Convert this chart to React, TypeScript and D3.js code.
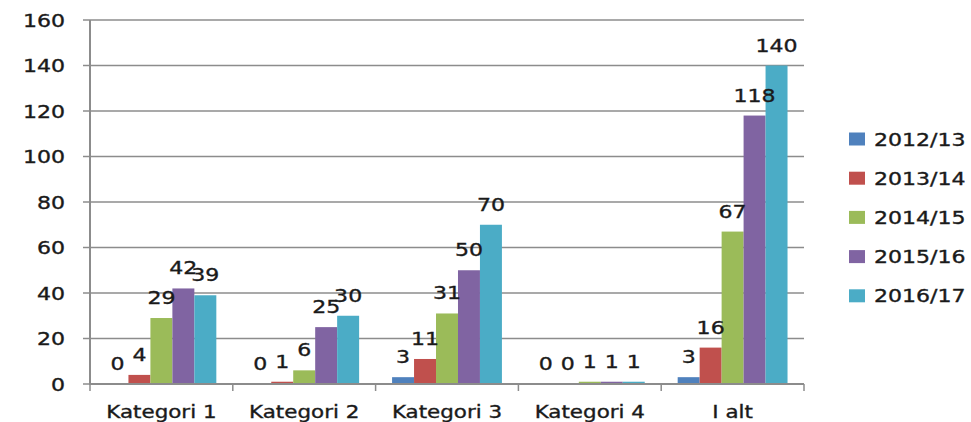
import React from 'react';
import { scaleBand, scaleLinear } from 'd3';

const categories = ['Kategori 1', 'Kategori 2', 'Kategori 3', 'Kategori 4', 'I alt'];
const seriesNames = ['2012/13', '2013/14', '2014/15', '2015/16', '2016/17'];
const colors = ['#4F81BD', '#C0504D', '#9BBB59', '#8064A2', '#4BACC6'];

// one array per season, values per category
const s2012 = [0, 0, 3, 0, 3];
const s2013 = [4, 1, 11, 0, 16];
const s2014 = [29, 6, 31, 1, 67];
const s2015 = [42, 25, 50, 1, 118];
const s2016 = [39, 30, 70, 1, 140];
const seriesValues = [s2012, s2013, s2014, s2015, s2016];

const yTicks = [0, 20, 40, 60, 80, 100, 120, 140, 160];

const width = 971;
const height = 422;
const left = 90;
const right = 804;
const top = 20;
const bottom = 384;

const font = '"DejaVu Sans", Verdana, sans-serif';
const stretch = 1.26;

// the picture is a bit wide, so text gets stretched horizontally
const Txt = ({ x, y, anchor = 'start', size = 17.5, children }: any) => (
  <text
    transform={`translate(${x},${y}) scale(${stretch},1)`}
    textAnchor={anchor}
    fontFamily={font}
    fontSize={size}
    fill="#1a1a1a"
    stroke="#1a1a1a"
    strokeWidth={0.35}
  >
    {children}
  </text>
);

export default function App() {
  const x = scaleBand<string>().domain(categories).range([left, right]);
  const inner = scaleBand<string>()
    .domain(seriesNames)
    .range([0, x.bandwidth()])
    .paddingOuter(0.75);
  const y = scaleLinear().domain([0, 160]).range([bottom, top]);

  const bars = categories.flatMap((c, ci) =>
    seriesValues.map((vals, si) => ({
      key: c + si,
      v: vals[ci],
      si,
      bx: (x(c) as number) + (inner(seriesNames[si]) as number),
    }))
  );

  return (
    <svg width={width} height={height} style={{ position: 'absolute', left: 0, top: 0 }}>
      <rect width={width} height={height} fill="#fff" />
      {yTicks.map(t => (
        <g key={t}>
          {t > 0 && (
            <line x1={left} x2={right} y1={y(t)} y2={y(t)} stroke="#8c8c8c" strokeWidth={1.5} />
          )}
          <line x1={left - 7} x2={left} y1={y(t)} y2={y(t)} stroke="#8c8c8c" strokeWidth={1.5} />
          <Txt x={65} y={y(t) + 6.5} anchor="end">{t}</Txt>
        </g>
      ))}

      {bars.map(b => (
        <rect
          key={b.key}
          x={b.bx}
          y={y(b.v)}
          width={inner.bandwidth()}
          height={bottom - y(b.v)}
          fill={colors[b.si]}
        />
      ))}

      <line x1={left} x2={left} y1={top} y2={bottom + 1} stroke="#8c8c8c" strokeWidth={2} />
      <line x1={left} x2={right} y1={bottom} y2={bottom} stroke="#8c8c8c" strokeWidth={2} />
      {categories.map((c, i) => (
        <line
          key={'t' + c}
          x1={left + i * x.step()}
          x2={left + i * x.step()}
          y1={bottom}
          y2={bottom + 7}
          stroke="#8c8c8c"
          strokeWidth={1.5}
        />
      ))}
      <line x1={right} x2={right} y1={bottom} y2={bottom + 7} stroke="#8c8c8c" strokeWidth={1.5} />

      {bars.map(b => (
        <Txt key={'v' + b.key} x={b.bx + inner.bandwidth() / 2} y={y(b.v) - 14} anchor="middle">
          {b.v}
        </Txt>
      ))}

      {categories.map(c => (
        <Txt key={'l' + c} x={(x(c) as number) + x.bandwidth() / 2} y={418} anchor="middle" size={17}>
          {c}
        </Txt>
      ))}

      {seriesNames.map((s, i) => (
        <g key={s} transform={`translate(849,${139 + i * 39.2})`}>
          <rect x={0} y={-6.5} width={16} height={13} fill={colors[i]} />
          <Txt x={25} y={6.5}>{s}</Txt>
        </g>
      ))}
    </svg>
  );
}
